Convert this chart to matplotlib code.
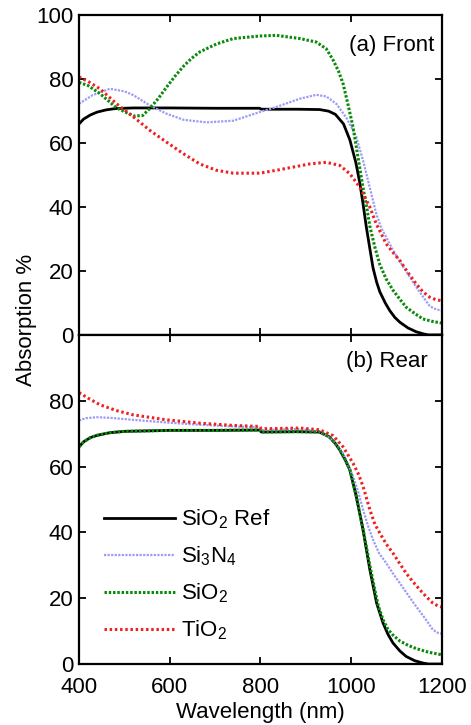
import numpy as np
import matplotlib
matplotlib.use('Agg')
import matplotlib.pyplot as plt

plt.rcParams['font.family'] = ['Liberation Sans', 'DejaVu Sans']
plt.rcParams['mathtext.fontset'] = 'custom'
plt.rcParams['mathtext.rm'] = 'Liberation Sans'
plt.rcParams['mathtext.it'] = 'Liberation Sans:italic'

# ---- front side absorption ----
wl_ref_f = [400, 410, 425, 440, 460, 480, 520, 600, 700, 798, 802, 880, 930, 950, 965, 983, 997,
            1010, 1019, 1026, 1033, 1041, 1048, 1056, 1063, 1075, 1085, 1096, 1107, 1125, 1143,
            1160, 1170, 1200]
ref_f = [66, 67.5, 68.8, 69.7, 70.4, 70.8, 71, 71, 70.9, 70.9, 70.6, 70.6, 70.5, 70, 69, 66, 61,
         54, 47.5, 41, 34, 27, 21, 16.5, 13.5, 10, 7.6, 5.5, 4, 2.2, 1, 0.3, 0, 0]

wl_sio2_f = [400, 420, 446, 483, 520, 540, 556, 575, 593, 612, 630, 648, 666, 703, 740, 798, 835,
             887, 923, 945, 960, 972, 982, 993, 1004, 1015, 1026, 1034, 1041, 1052, 1063, 1077,
             1092, 1107, 1121, 1140, 1158, 1180, 1200]
sio2_f = [79, 78, 75.5, 71, 68.5, 68.6, 70.8, 74, 77.5, 81, 84, 86.5, 88.5, 91, 92.7, 93.5, 93.7,
          92.7, 91.6, 89.5, 86, 82.5, 78.6, 72, 65, 55.5, 46, 40, 34, 27.5, 22, 17.5, 14, 11.2,
          8.7, 6.7, 5, 4.2, 3.7]

wl_si3n4_f = [400, 430, 468, 500, 520, 556, 593, 630, 681, 740, 798, 835, 887, 923, 945, 967, 989,
              1011, 1026, 1041, 1055, 1066, 1077, 1092, 1107, 1125, 1143, 1158, 1173, 1187, 1200]
si3n4_f = [72.3, 75, 77, 76.2, 75, 71.8, 69.2, 67.3, 66.5, 67, 69.7, 71.3, 73.9, 75.1, 74.6, 72.3,
           68, 62, 54.6, 46, 38, 33.5, 30.6, 26.5, 23, 19, 15, 12, 9, 8, 7.6]

wl_tio2_f = [400, 420, 446, 483, 520, 556, 593, 630, 666, 703, 740, 798, 835, 872, 909, 945, 975,
             997, 1019, 1041, 1055, 1077, 1092, 1107, 1125, 1143, 1158, 1173, 1187, 1200]
tio2_f = [80.7, 79.3, 77, 72.3, 68.2, 64, 60.3, 56.7, 53.5, 51.5, 50.6, 50.6, 51.5, 52.5, 53.5, 54,
          53, 50.4, 46.2, 40, 34.8, 28.5, 25.8, 23.3, 19.5, 16, 13.5, 11.8, 11, 10.7]

# ---- rear side absorption ----
wl_ref_r = [400, 410, 425, 440, 468, 500, 600, 700, 798, 802, 880, 930, 952, 965, 975, 987, 997,
            1011, 1026, 1041, 1056, 1070, 1081, 1092, 1107, 1121, 1140, 1158, 1170, 1200]
ref_r = [66, 67.5, 68.8, 69.5, 70.3, 70.7, 71, 71, 71.1, 70.5, 70.6, 70.5, 69, 67, 65, 62, 59,
         51, 40.8, 28.7, 18.5, 12.5, 9, 6.4, 4, 2.3, 1, 0.3, 0, 0]

wl_sio2_r = [400, 410, 425, 440, 468, 500, 600, 700, 798, 802, 880, 930, 952, 965, 975, 987, 997,
             1011, 1026, 1041, 1052, 1060, 1070, 1081, 1092, 1107, 1125, 1143, 1170, 1200]
sio2_r = [66, 67.5, 68.8, 69.5, 70.3, 70.7, 71, 71, 71.1, 70.5, 70.6, 70.5, 69, 67, 65, 62, 59,
          51, 41, 30, 22.5, 17.5, 13.5, 10.5, 8.8, 7, 5.7, 4.7, 3.6, 2.8]

wl_si3n4_r = [400, 415, 439, 470, 520, 593, 666, 740, 798, 802, 887, 930, 960, 982, 1004, 1015,
              1026, 1037, 1048, 1062, 1077, 1092, 1107, 1125, 1143, 1162, 1180, 1192, 1200]
si3n4_r = [74, 74.7, 75, 74.8, 74.2, 73.4, 72.7, 72.2, 71.9, 71.1, 71.4, 70.7, 68, 64, 57, 52.5,
           46.9, 42, 37.8, 33.5, 30.7, 27.5, 24.6, 21, 17.5, 14, 10.4, 9.4, 9.2]

wl_tio2_r = [400, 420, 446, 483, 520, 593, 666, 740, 798, 802, 887, 930, 960, 982, 1004, 1015,
             1026, 1041, 1052, 1063, 1077, 1092, 1107, 1121, 1136, 1151, 1165, 1180, 1192, 1200]
tio2_r = [82.5, 80.8, 78.8, 77, 75.7, 74.2, 73.2, 72.5, 72.2, 71.5, 71.7, 71.2, 69.4, 66, 61, 58,
          54, 46.9, 42.5, 39.8, 36.5, 33.7, 30.5, 27.6, 25, 22.6, 20.5, 18.5, 17.6, 17.3]

labels = [r'SiO$_2$ Ref', r'Si$_3$N$_4$', r'SiO$_2$', r'TiO$_2$']

fig = plt.figure(figsize=(4.71, 7.25), dpi=100)
ax1 = fig.add_axes([0.1677, 0.538, 0.7707, 0.441])
ax2 = fig.add_axes([0.1677, 0.0841, 0.7707, 0.4539])


def draw(ax, data):
    ax.plot(data[0][0], data[0][1], color='black', lw=2.0, ls='-', label=labels[0])
    ax.plot(data[1][0], data[1][1], color='#9c9cf5', lw=1.6, ls=(0, (1.0, 0.6)), label=labels[1])
    ax.plot(data[2][0], data[2][1], color='#0a8a0a', lw=2.2, ls=(0, (0.8, 0.6)), label=labels[2])
    ax.plot(data[3][0], data[3][1], color='#ee2020', lw=2.2, ls=(0, (0.8, 0.9)), label=labels[3])
    ax.set_xlim(400, 1200)
    ax.set_ylim(0, 100)
    ax.set_xticks([400, 600, 800, 1000, 1200])
    ax.set_yticks([0, 20, 40, 60, 80, 100])
    ax.tick_params(direction='in', top=True, right=True, length=5, width=1.3,
                   labelsize=16, pad=4)
    ax.tick_params(axis='x', pad=9)
    for s in ax.spines.values():
        s.set_linewidth(1.6)


draw(ax1, [(wl_ref_f, ref_f), (wl_si3n4_f, si3n4_f), (wl_sio2_f, sio2_f), (wl_tio2_f, tio2_f)])
draw(ax2, [(wl_ref_r, ref_r), (wl_si3n4_r, si3n4_r), (wl_sio2_r, sio2_r), (wl_tio2_r, tio2_r)])

ax1.set_xticklabels([])
ax2.set_yticklabels(['0', '20', '40', '60', '80', ''])

ax1.text(0.98, 0.905, '(a) Front', transform=ax1.transAxes, ha='right', va='center', fontsize=16)
ax2.text(0.96, 0.918, '(b) Rear', transform=ax2.transAxes, ha='right', va='center', fontsize=16)

ax2.set_xlabel('Wavelength (nm)', fontsize=16, labelpad=3)
fig.text(0.057, 0.559, 'Absorption %', rotation=90, ha='center', va='center', fontsize=16)

ax2.legend(loc='lower left', bbox_to_anchor=(0.045, 0.04), frameon=False, fontsize=16,
           handlelength=3.2, handletextpad=0.25, labelspacing=0.6, borderaxespad=0)

fig.savefig('out.png', dpi=100)
